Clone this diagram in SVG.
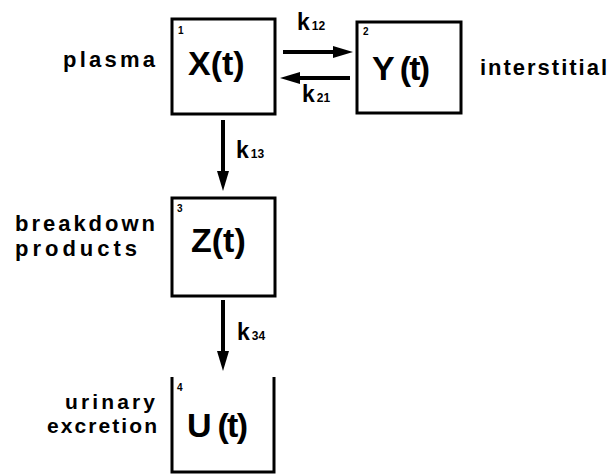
<svg xmlns="http://www.w3.org/2000/svg" width="609" height="474" viewBox="0 0 609 474">
<style>
text{font-family:"Liberation Sans",Arial,sans-serif;font-weight:bold;fill:#000}
.box{fill:none;stroke:#000;stroke-width:3}
.big{font-size:34px}
.num{font-size:10px}
.lab{font-size:22px}
.lab2{font-size:21px}
.k{font-size:23px}
.sub{font-size:12px}
.arr{stroke:#000;stroke-width:4;fill:none}
</style>
<defs>
<marker id="ah" markerUnits="userSpaceOnUse" viewBox="0 0 20 12" markerWidth="20" markerHeight="12" refX="2" refY="6" orient="auto">
<path d="M0,0 L20,6 L0,12 z" fill="#000"/>
</marker>
</defs>
<rect width="609" height="474" fill="#fff"/>
<g id="node-x">
<rect class="box" x="172" y="19" width="103" height="95"/>
<text class="num" x="178" y="34">1</text>
<text class="big" x="188" y="75">X(t)</text>
<text class="lab" x="63" y="67" textLength="92" lengthAdjust="spacing">plasma</text>
</g>
<g id="node-y">
<rect class="box" x="357" y="22" width="104" height="91"/>
<text class="num" x="363" y="35">2</text>
<text class="big" x="372" y="80" textLength="58" lengthAdjust="spacing">Y (t)</text>
<text class="lab" x="480" y="75" textLength="127" lengthAdjust="spacing">interstitial</text>
</g>
<g id="node-z">
<rect class="box" x="172" y="198" width="103" height="98"/>
<text class="num" x="177" y="212">3</text>
<text class="big" x="191" y="252">Z(t)</text>
<text class="lab" x="15" y="231" textLength="140" lengthAdjust="spacing">breakdown</text>
<text class="lab" x="15" y="256" textLength="122" lengthAdjust="spacing">products</text>
</g>
<g id="node-u">
<path class="box" d="M172,377 V472 H274 V377"/>
<text class="num" x="177" y="391">4</text>
<text class="big" x="187" y="437" textLength="61" lengthAdjust="spacing">U (t)</text>
<text class="lab2" x="65" y="409" textLength="90" lengthAdjust="spacing">urinary</text>
<text class="lab2" x="47" y="433" textLength="110" lengthAdjust="spacing">excretion</text>
</g>
<g id="connectors">
<line class="arr" x1="283" y1="52" x2="335" y2="52" marker-end="url(#ah)"/>
<line class="arr" x1="350" y1="78" x2="298" y2="78" marker-end="url(#ah)"/>
<line class="arr" x1="223" y1="120" x2="223" y2="173" marker-end="url(#ah)"/>
<line class="arr" x1="223" y1="300" x2="223" y2="353" marker-end="url(#ah)"/>
<text class="k" x="297" y="30">k<tspan class="sub" dx="2">12</tspan></text>
<text class="k" x="302" y="102">k<tspan class="sub" dx="2">21</tspan></text>
<text class="k" x="236" y="158">k<tspan class="sub" dx="2">13</tspan></text>
<text class="k" x="237" y="340">k<tspan class="sub" dx="2">34</tspan></text>
</g>
</svg>
